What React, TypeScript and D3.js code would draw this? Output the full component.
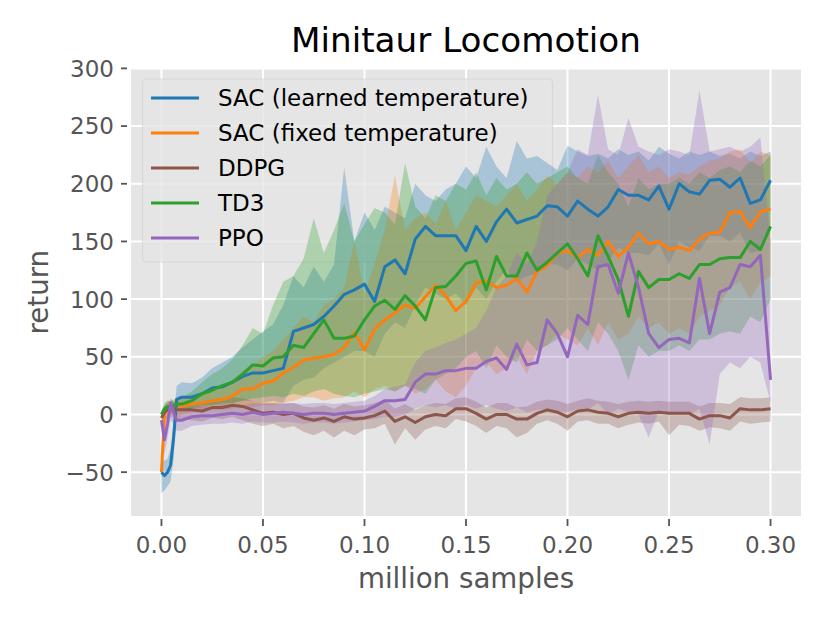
import * as d3 from "d3";

// million samples
const samples = [
  0, 0.0015, 0.003, 0.0045, 0.006, 0.0075, 0.01,
  0.015, 0.02, 0.025, 0.03, 0.035, 0.04, 0.045, 0.05, 0.055, 0.06,
  0.065, 0.07, 0.075, 0.08, 0.085, 0.09, 0.095, 0.1, 0.105, 0.11,
  0.115, 0.12, 0.125, 0.13, 0.135, 0.14, 0.145, 0.15, 0.155, 0.16,
  0.165, 0.17, 0.175, 0.18, 0.185, 0.19, 0.195, 0.2, 0.205, 0.21,
  0.215, 0.22, 0.225, 0.23, 0.235, 0.24, 0.245, 0.25, 0.255, 0.26,
  0.265, 0.27, 0.275, 0.28, 0.285, 0.29, 0.295, 0.3,
];

const sacLearned = [
  -50, -53, -50, -44, -20, 13, 15,
  15, 18, 23, 24, 28, 33, 36, 36, 38, 40,
  72, 75, 78, 85, 94, 104, 108, 113, 98, 128,
  134, 122, 152, 163, 155, 155, 155, 142, 163, 150,
  167, 178, 166, 169, 172, 181, 180, 172, 185, 178,
  172, 180, 195, 190, 190, 186, 198, 178, 200, 193,
  191, 203, 204, 197, 205, 183, 186, 203,
];
const sacLearnedHi = [
  -38, -40, -38, -30, -5, 25, 28,
  27, 32, 40, 45, 50, 58, 65, 72, 78, 95,
  120, 110, 128, 115, 130, 214, 150, 175, 160, 180,
  175, 170, 200, 190, 185, 195, 200, 215, 205, 232,
  215, 205, 237, 222, 224, 218, 212, 233, 228, 224,
  226, 222, 230, 225, 228, 220, 232, 226, 222, 228,
  225, 228, 224, 226, 222, 228, 224, 228,
];
const sacLearnedLo = [
  -68, -66, -62, -58, -38, 3, 5,
  5, 6, 8, 8, 10, 12, 12, 10, 12, 10,
  25, 30, 32, 40, 45, 50, 55, 55, 50, 70,
  80, 75, 95, 110, 105, 100, 105, 95, 110, 100,
  115, 125, 115, 120, 122, 130, 130, 125, 135, 130,
  125, 132, 145, 140, 140, 138, 148, 130, 150, 145,
  142, 155, 155, 150, 158, 140, 142, 160,
];

const sacFixed = [
  -50, 0, 5, 6, 5, 4, 7,
  9, 10, 12, 13, 16, 22, 22, 27, 29, 36,
  41, 47, 49, 50, 52, 58, 71, 56, 74, 82,
  88, 95, 92, 102, 112, 103, 90, 98, 114, 116,
  110, 112, 118, 106, 124, 129, 140, 142, 136, 143,
  138, 150, 137, 145, 157, 148, 150, 143, 145, 142,
  152, 157, 158, 175, 176, 162, 176, 178,
];
const sacFixedHi = [
  -40, 8, 12, 12, 12, 12, 14,
  17, 19, 22, 25, 30, 38, 42, 50, 55, 65,
  75, 85, 80, 95, 100, 110, 150, 105, 130, 160,
  207, 160, 170, 175, 165, 185, 160, 175, 190, 185,
  180, 190, 200, 185, 195, 207, 200, 210, 205, 215,
  210, 220, 205, 215, 225, 210, 215, 205, 210, 208,
  215, 220, 222, 228, 230, 218, 228, 225,
];
const sacFixedLo = [
  -60, -8, -2, 0, -1, -2, 0,
  2, 3, 4, 4, 5, 8, 6, 8, 8, 10,
  12, 15, 15, 12, 14, 15, 20, 15, 22, 25,
  20, 25, 18, 22, 30, 20, 15, 25, 40, 45,
  35, 40, 50, 35, 55, 60, 70, 65, 60, 75,
  60, 80, 65, 70, 85, 75, 80, 70, 75, 70,
  85, 90, 95, 110, 115, 100, 115, 120,
];

const ddpg = [
  -3, 2, 4, 5, 5, 4, 4,
  4, 3, 6, 6, 8, 7, 4, 1, 2, 0,
  1, -3, -5, -3, -6, -2, -4, -3, -1, 3,
  -6, -2, -7, -2, 0, -1, 5, 5, 1, -4,
  0, 0, -4, -4, 1, 4, 2, -2, 3, 4,
  2, 1, -2, 1, 2, 1, 2, 1, 1, 1,
  -4, -1, -1, -3, 5, 4, 4, 5,
];
const ddpgHi = [
  2, 8, 10, 11, 11, 10, 10,
  10, 10, 13, 14, 15, 14, 12, 10, 10, 9,
  10, 7, 6, 8, 5, 9, 7, 8, 10, 13,
  5, 9, 4, 8, 10, 9, 14, 15, 11, 6,
  10, 10, 6, 7, 11, 13, 12, 9, 12, 14,
  12, 11, 9, 11, 12, 11, 12, 11, 11, 11,
  7, 10, 10, 9, 15, 14, 14, 15,
];
const ddpgLo = [
  -8, -4, -3, -2, -3, -4, -4,
  -5, -6, -3, -4, -2, -5, -8, -10, -8, -12,
  -10, -15, -18, -14, -20, -14, -18, -13, -12, -8,
  -26, -12, -22, -13, -10, -12, -4, -6, -10, -16,
  -10, -12, -20, -16, -8, -5, -8, -14, -6, -5,
  -8, -8, -12, -9, -7, -8, -6, -18, -9, -10,
  -14, -11, -12, -14, -6, -8, -7, -6,
];

const td3 = [
  0, 5, 7, 7, 8, 9, 9,
  12, 18, 21, 25, 28, 35, 43, 42, 49, 50,
  60, 58, 70, 82, 66, 66, 68, 82, 94, 99,
  91, 103, 94, 82, 110, 111, 120, 131, 133, 108,
  137, 120, 120, 140, 125, 132, 140, 148, 135, 120,
  155, 137, 117, 85, 124, 110, 117, 117, 122, 118,
  130, 130, 135, 136, 136, 150, 143, 163,
];
const td3Hi = [
  3, 10, 12, 12, 13, 14, 15,
  20, 28, 35, 40, 48, 60, 75, 70, 95, 115,
  120, 135, 170, 140, 160, 183, 150, 165, 179, 175,
  165, 218, 180, 170, 190, 185, 200, 195, 210, 190,
  205, 195, 200, 210, 200, 205, 210, 215, 205, 200,
  225, 210, 200, 180, 205, 195, 200, 200, 205, 200,
  210, 205, 212, 215, 210, 220, 215, 225,
];
const td3Lo = [
  -3, 0, 2, 2, 3, 4, 4,
  5, 8, 8, 10, 10, 12, 14, 15, 16, 15,
  18, 16, 20, 22, 18, 16, 15, 18, 20, 22,
  20, 25, 22, 18, 30, 35, 40, 50, 55, 40,
  60, 50, 45, 65, 55, 60, 65, 75, 65, 55,
  80, 70, 55, 30, 60, 50, 55, 55, 60, 55,
  65, 65, 70, 72, 70, 85, 80, 100,
];

const ppo = [
  -5, -22, -8, 10, 2, -5, -5,
  -2, -1, -1, 0, 1, 0, 2, 0, 1, 2,
  1, 0, 1, 1, 0, 1, 2, 3, 7, 12,
  12, 13, 28, 35, 35, 38, 38, 40, 40, 46,
  49, 39, 61, 43, 45, 82, 70, 50, 86, 78,
  128, 130, 105, 140, 110, 70, 58, 65, 66, 62,
  118, 70, 106, 110, 130, 128, 138, 30,
];
const ppoHi = [
  2, -10, 2, 15, 10, 5, 5,
  6, 7, 7, 8, 9, 8, 10, 9, 9, 10,
  10, 9, 10, 10, 9, 10, 11, 12, 16, 22,
  24, 26, 45, 55, 58, 62, 65, 70, 75, 90,
  110, 120, 140, 130, 150, 190, 200, 210, 230, 225,
  277, 230, 225, 257, 232, 228, 225, 230, 228, 225,
  281, 228, 230, 232, 228, 232, 240, 150,
];
const ppoLo = [
  -15, -35, -20, -5, -8, -14, -14,
  -10, -9, -8, -8, -7, -8, -6, -7, -7, -6,
  -7, -8, -7, -7, -8, -7, -6, -5, -4, -2,
  -2, 0, 5, 8, 6, 8, 5, 8, 5, 8,
  5, 3, 6, 2, 4, 5, 3, 2, 5, 4,
  10, 0, 5, 2, 0, -20, 3, 0, 2, 0,
  5, -26, 35, 45, 40, 50, 45, 10,
];

const xTicks = [0, 0.05, 0.1, 0.15, 0.2, 0.25, 0.3];
const yTicks = [-50, 0, 50, 100, 150, 200, 250, 300];

const series = [
  { name: "SAC (learned temperature)", color: "#1f77b4", mean: sacLearned, lo: sacLearnedLo, hi: sacLearnedHi },
  { name: "SAC (fixed temperature)", color: "#ff7f0e", mean: sacFixed, lo: sacFixedLo, hi: sacFixedHi },
  { name: "DDPG", color: "#8c564b", mean: ddpg, lo: ddpgLo, hi: ddpgHi },
  { name: "TD3", color: "#2ca02c", mean: td3, lo: td3Lo, hi: td3Hi },
  { name: "PPO", color: "#9467bd", mean: ppo, lo: ppoLo, hi: ppoHi },
];

const W = 830;
const H = 622;
const left = 131;
const right = 801;
const top = 68.4;
const bottom = 516;
const FONT = "DejaVu Sans, sans-serif";

export default function App() {
  const x = d3.scaleLinear().domain([-0.015, 0.315]).range([left, right]);
  const y = d3.scaleLinear().domain([-88, 300]).range([bottom, top]);

  const line = d3
    .line<number>()
    .x((_, i) => x(samples[i]))
    .y((d) => y(d));

  const area = (lo: number[], hi: number[]) =>
    d3
      .area<number>()
      .x((_, i) => x(samples[i]))
      .y0((_, i) => y(lo[i]))
      .y1((_, i) => y(hi[i]))(samples);

  const fmtY = (v: number) => (v < 0 ? "\u2212" + Math.abs(v) : String(v));

  return (
    <div style={{ position: "fixed", left: 0, top: 0 }}>
      <svg width={W} height={H} style={{ display: "block", background: "#fff" }}>
        <defs>
          <clipPath id="plot">
            <rect x={left} y={top} width={right - left} height={bottom - top} />
          </clipPath>
        </defs>
        <rect x={left} y={top} width={right - left} height={bottom - top} fill="#e5e5e5" />
        {xTicks.map((t) => (
          <line key={"gx" + t} x1={x(t)} x2={x(t)} y1={top} y2={bottom} stroke="#fff" strokeWidth={2} />
        ))}
        {yTicks.map((t) => (
          <line key={"gy" + t} x1={left} x2={right} y1={y(t)} y2={y(t)} stroke="#fff" strokeWidth={2} />
        ))}

        {/* legend frame sits under the data, as in the original */}
        <rect
          x={142.5}
          y={79}
          width={410}
          height={183}
          rx={4}
          fill="#e5e5e5"
          fillOpacity={0.8}
          stroke="#cccccc"
          strokeOpacity={0.5}
          strokeWidth={1.2}
        />

        <g clipPath="url(#plot)">
          {series.map((s) => (
            <path key={"a" + s.name} d={area(s.lo, s.hi) ?? ""} fill={s.color} fillOpacity={0.3} stroke="none" />
          ))}
          {series.map((s) => (
            <path
              key={"l" + s.name}
              d={line(s.mean) ?? ""}
              fill="none"
              stroke={s.color}
              strokeWidth={3}
              strokeLinejoin="round"
            />
          ))}
        </g>

        {xTicks.map((t) => (
          <g key={"tx" + t}>
            <line x1={x(t)} x2={x(t)} y1={519} y2={526} stroke="#555" strokeWidth={1.8} />
            <text x={x(t)} y={553} textAnchor="middle" fontFamily={FONT} fontSize={23} fill="#555">
              {d3.format(".2f")(t)}
            </text>
          </g>
        ))}
        {yTicks.map((t) => (
          <g key={"ty" + t}>
            <line x1={121} x2={127} y1={y(t)} y2={y(t)} stroke="#555" strokeWidth={1.8} />
            <text x={114} y={y(t) + 8.4} textAnchor="end" fontFamily={FONT} fontSize={23} fill="#555">
              {fmtY(t)}
            </text>
          </g>
        ))}

        <text x={(left + right) / 2} y={588} textAnchor="middle" fontFamily={FONT} fontSize={27.7} fill="#555">
          million samples
        </text>
        <text
          transform={`translate(48,${(top + bottom) / 2}) rotate(-90)`}
          textAnchor="middle"
          fontFamily={FONT}
          fontSize={27.7}
          fill="#555"
        >
          return
        </text>
        <text x={(left + right) / 2} y={52} textAnchor="middle" fontFamily={FONT} fontSize={34.2} fill="#000">
          Minitaur Locomotion
        </text>

        {series.map((s, i) => {
          const cy = 98 + i * 35;
          return (
            <g key={"lg" + s.name}>
              <line x1={151} x2={199} y1={cy} y2={cy} stroke={s.color} strokeWidth={3.2} />
              <text x={218} y={cy + 8.4} fontFamily={FONT} fontSize={23} fill="#000">
                {s.name}
              </text>
            </g>
          );
        })}
      </svg>
    </div>
  );
}
